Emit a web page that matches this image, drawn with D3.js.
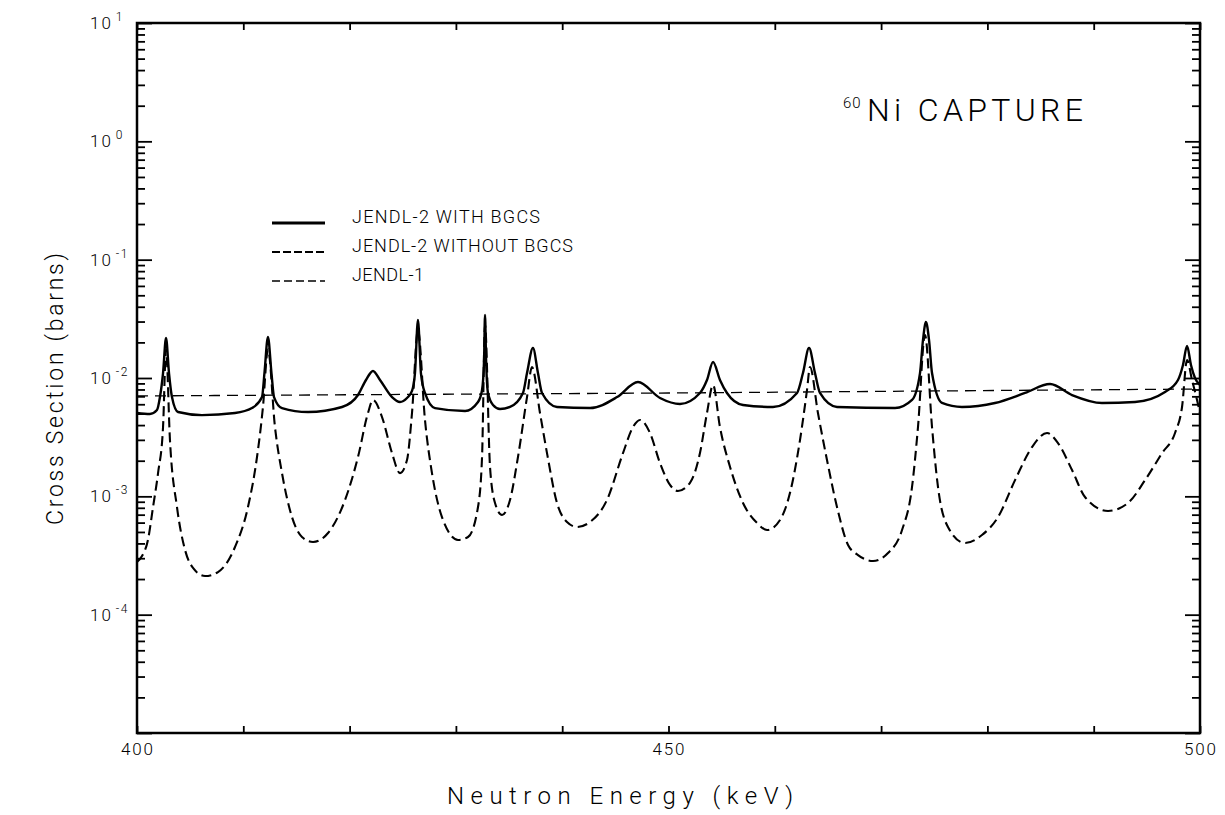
<!DOCTYPE html>
<html>
<head>
<meta charset="utf-8">
<script src="https://cdn.jsdelivr.net/npm/d3@7"></script>
<style>
  body { margin: 0; background: #fff; }
  text { font-family: Roboto, 'DejaVu Sans', sans-serif; font-weight: 300; fill: #000; }
</style>
</head>
<body>
<div id="chart"></div>
<script>

// JENDL-2 with background cross section (solid)
const e_with = [400.00, 401.22, 401.88, 402.16, 402.45, 402.73, 403.01, 403.29, 403.86, 406.11,
  409.22, 410.82, 411.76, 411.99, 412.32, 412.65, 412.89, 413.64, 416.09, 419.29,
  420.79, 421.54, 422.20, 422.86, 423.99, 424.74, 425.40, 425.87, 426.15, 426.43,
  426.71, 427.09, 428.03, 430.86, 432.08, 432.46, 432.65, 432.74, 432.84, 433.02,
  433.49, 434.15, 435.09, 436.31, 436.69, 437.25, 437.72, 438.10, 439.51, 442.62,
  445.16, 447.13, 449.20, 451.08, 452.96, 453.62, 454.19, 454.84, 455.50, 457.01,
  459.83, 462.09, 462.65, 463.22, 463.78, 464.25, 465.85, 471.31, 472.91, 473.66,
  473.94, 474.22, 474.51, 474.79, 475.73, 477.61, 480.71, 483.54, 485.89, 487.96,
  490.78, 493.89, 496.71, 497.93, 498.40, 498.78, 499.15, 499.53, 500.00];
const xs_with = [0.00506, 0.00496, 0.00536, 0.00690, 0.01101, 0.0218, 0.01101, 0.00690, 0.00516, 0.00486,
  0.00506, 0.00557, 0.00690, 0.01101, 0.0222, 0.01101, 0.00690, 0.00557, 0.00516, 0.00569,
  0.00718, 0.00962, 0.01146, 0.00962, 0.00690, 0.00627, 0.00678, 0.00777, 0.01101, 0.0309,
  0.01101, 0.00747, 0.00557, 0.00526, 0.00627, 0.00792, 0.01419, 0.0341, 0.01419, 0.00747,
  0.00592, 0.00547, 0.00569, 0.00747, 0.01101, 0.01792, 0.01101, 0.00747, 0.00569, 0.00557,
  0.00690, 0.00925, 0.00678, 0.00603, 0.00747, 0.00962, 0.01365, 0.00962, 0.00747, 0.00592,
  0.00569, 0.00747, 0.01101, 0.01792, 0.01101, 0.00747, 0.00569, 0.00557, 0.00652, 0.01101,
  0.0209, 0.0297, 0.0209, 0.01101, 0.00615, 0.00569, 0.00615, 0.00747, 0.00889, 0.00718,
  0.00615, 0.00627, 0.00762, 0.00962, 0.01288, 0.01864, 0.01288, 0.0100, 0.00873];

// JENDL-2 without background cross section (heavy dashes)
const e_without = [400.00, 400.47, 401.03, 401.51, 401.98, 402.45, 402.73, 403.10, 403.76, 404.52,
  405.27, 406.40, 407.62, 409.22, 410.44, 411.29, 411.85, 412.32, 412.98, 413.64,
  414.58, 415.52, 416.56, 417.97, 419.57, 420.79, 421.73, 422.20, 423.05, 423.99,
  424.74, 425.40, 425.87, 426.43, 427.09, 427.75, 428.69, 430.20, 431.14, 432.08,
  432.46, 432.74, 433.21, 433.68, 434.34, 435.09, 435.84, 436.69, 437.16, 437.91,
  438.57, 439.51, 440.45, 441.39, 442.62, 444.21, 445.72, 446.66, 447.32, 448.26,
  449.20, 450.14, 450.89, 452.02, 452.96, 453.62, 454.19, 454.84, 455.79, 457.01,
  458.33, 459.27, 460.49, 461.43, 462.37, 463.03, 463.31, 464.06, 464.91, 465.85,
  466.89, 467.83, 469.24, 470.65, 471.97, 472.91, 473.47, 474.13, 474.79, 475.35,
  476.29, 477.89, 479.49, 481.00, 482.60, 484.20, 485.61, 486.64, 487.96, 489.18,
  491.35, 493.23, 494.83, 496.43, 497.65, 498.31, 498.78, 499.25, 499.72, 500.00];
const xs_without = [0.000279, 0.000313, 0.000428, 0.000813, 0.00157, 0.00385, 0.0175, 0.00299, 0.000813, 0.000352,
  0.000248, 0.000212, 0.000229, 0.000373, 0.000813, 0.00215, 0.00569, 0.0175, 0.00385, 0.00157,
  0.000668, 0.000453, 0.000411, 0.000490, 0.000931, 0.00215, 0.00506, 0.00652, 0.00468, 0.00232,
  0.00157, 0.00203, 0.00506, 0.0255, 0.00442, 0.00157, 0.000668, 0.000428, 0.000453, 0.000813,
  0.00215, 0.0280, 0.00177, 0.000879, 0.000695, 0.000931, 0.00215, 0.00690, 0.01238, 0.00506,
  0.00232, 0.000879, 0.000607, 0.000551, 0.000607, 0.000931, 0.00232, 0.00385, 0.00442, 0.00343,
  0.00191, 0.00125, 0.00111, 0.00130, 0.00232, 0.00506, 0.00873, 0.00385, 0.00177, 0.000879,
  0.000595, 0.000519, 0.000631, 0.00107, 0.00299, 0.00792, 0.01238, 0.00506, 0.00203, 0.000813,
  0.000388, 0.000319, 0.000284, 0.000332, 0.000519, 0.00120, 0.00385, 0.0231, 0.00385, 0.00120,
  0.000551, 0.000403, 0.000471, 0.000668, 0.00137, 0.00261, 0.00343, 0.00282, 0.00167, 0.000987,
  0.000752, 0.000879, 0.00137, 0.00232, 0.00343, 0.00569, 0.01419, 0.00962, 0.00652, 0.00506];

// JENDL-1 (thin dashes)
const e_jendl1 = [400, 425, 450, 475, 500];
const xs_jendl1 = [0.00705, 0.00726, 0.00747, 0.00777, 0.00807];

const x_ticks = [400, 410, 420, 430, 440, 450, 460, 470, 480, 490, 500];
const x_labels = [400, 450, 500];
const y_decades = [-5, -4, -3, -2, -1, 0, 1];
const y_labels = [-4, -3, -2, -1, 0, 1];

const legend_names = ['JENDL-2 WITH BGCS', 'JENDL-2 WITHOUT BGCS', 'JENDL-1'];
const legend_widths = [188, 221, 72];


const W = 1225, H = 815;
const margin = { left: 137, right: 25, top: 23, bottom: 82 };
const plot_w = W - margin.left - margin.right;
const plot_h = H - margin.top - margin.bottom;

const svg = d3.select( '#chart' )
  .append( 'svg' )
    .attr( 'width', W )
    .attr( 'height', H );

const g = svg.append( 'g' )
  .attr( 'transform', 'translate(' + margin.left + ',' + margin.top + ')' );

const x = d3.scaleLinear().domain( [400, 500] ).range( [0, plot_w] );
const y = d3.scaleLog().domain( [1e-5, 10] ).range( [plot_h, 0] );

// Minor ticks: 2..9 in every decade.
const y_minor = [];
y_decades.slice( 0, -1 ).forEach( function( p ){
  for( let m = 2; m <= 9; m++ ){ y_minor.push( m * Math.pow( 10, p ) ); }
});
const y_major = y_decades.map( p => Math.pow( 10, p ) );

function tick_axis( axis, tr ){
  const a = g.append( 'g' ).attr( 'transform', tr ).call( axis );
  a.select( '.domain' ).remove();
  a.selectAll( 'text' ).remove();
  a.selectAll( 'line' ).attr( 'stroke', '#000' ).attr( 'stroke-width', 1.8 );
}

// Left and right axes, ticks point inward.
tick_axis( d3.axisRight( y ).tickValues( y_major ).tickSize( 15 ), 'translate(0,0)' );
tick_axis( d3.axisRight( y ).tickValues( y_minor ).tickSize( 8 ), 'translate(0,0)' );
tick_axis( d3.axisLeft( y ).tickValues( y_major ).tickSize( 15 ), 'translate(' + plot_w + ',0)' );
tick_axis( d3.axisLeft( y ).tickValues( y_minor ).tickSize( 8 ), 'translate(' + plot_w + ',0)' );
// Top and bottom axes.
tick_axis( d3.axisTop( x ).tickValues( x_ticks ).tickSize( 7 ), 'translate(0,' + plot_h + ')' );
tick_axis( d3.axisBottom( x ).tickValues( x_ticks ).tickSize( 7 ), 'translate(0,0)' );

// Frame
g.append( 'rect' )
  .attr( 'width', plot_w )
  .attr( 'height', plot_h )
  .attr( 'fill', 'none' )
  .attr( 'stroke', '#000' )
  .attr( 'stroke-width', 2.5 );

// Y tick labels, 10 with superscript exponent.
y_labels.forEach( function( p ){
  const t = g.append( 'text' )
    .attr( 'x', -47 )
    .attr( 'y', y( Math.pow( 10, p ) ) + 6 )
    .attr( 'font-size', 17 )
    .attr( 'font-weight', 400 );
  t.append( 'tspan' ).attr( 'letter-spacing', 2 ).text( '10' );
  t.append( 'tspan' )
    .attr( 'dx', 3 )
    .attr( 'dy', -8 )
    .attr( 'font-size', 12 )
    .attr( 'letter-spacing', 1.5 )
    .text( p < 0 ? '-' + ( -p ) : p );
});

// X tick labels
g.selectAll( '.xlab' )
  .data( x_labels )
  .enter()
  .append( 'text' )
    .attr( 'x', d => x( d ) - 16 )
    .attr( 'y', plot_h + 22 )
    .attr( 'font-size', 17 )
    .attr( 'font-weight', 400 )
    .attr( 'textLength', 32 )
    .attr( 'lengthAdjust', 'spacing' )
    .text( d => d );

// Axis titles
svg.append( 'text' )
  .attr( 'x', 447 )
  .attr( 'y', 804 )
  .attr( 'font-size', 24 )
  .attr( 'textLength', 346 )
  .attr( 'lengthAdjust', 'spacing' )
  .text( 'Neutron Energy (keV)' );

svg.append( 'text' )
  .attr( 'transform', 'translate(63,525) rotate(-90)' )
  .attr( 'font-size', 23 )
  .attr( 'textLength', 272 )
  .attr( 'lengthAdjust', 'spacing' )
  .text( 'Cross Section (barns)' );

// Title
svg.append( 'text' )
  .attr( 'x', 843 )
  .attr( 'y', 108 )
  .attr( 'font-size', 15 )
  .attr( 'letter-spacing', 1 )
  .text( '60' );
svg.append( 'text' )
  .attr( 'x', 867 )
  .attr( 'y', 121 )
  .attr( 'font-size', 32 )
  .attr( 'textLength', 216 )
  .attr( 'lengthAdjust', 'spacing' )
  .text( 'Ni CAPTURE' );

// Curves
const line = d3.line()
  .x( d => x( d[0] ) )
  .y( d => y( d[1] ) )
  .curve( d3.curveMonotoneX );

const series = [
  { e: e_with, v: xs_with, width: 2.4, dash: null },
  { e: e_without, v: xs_without, width: 2.1, dash: '10,5' },
  { e: e_jendl1, v: xs_jendl1, width: 1.3, dash: '11,7' }
];

svg.append( 'clipPath' ).attr( 'id', 'clip' )
  .append( 'rect' ).attr( 'width', plot_w ).attr( 'height', plot_h );

series.forEach( function( s ){
  g.append( 'path' )
    .datum( d3.zip( s.e, s.v ) )
    .attr( 'clip-path', 'url(#clip)' )
    .attr( 'fill', 'none' )
    .attr( 'stroke', '#000' )
    .attr( 'stroke-width', s.width )
    .attr( 'stroke-dasharray', s.dash )
    .attr( 'd', line );
});

// Legend
const leg = svg.append( 'g' );
series.forEach( function( s, i ){
  const ly = 223 + i * 29;
  leg.append( 'line' )
    .attr( 'x1', 272 ).attr( 'x2', 325 )
    .attr( 'y1', ly ).attr( 'y2', ly )
    .attr( 'stroke', '#000' )
    .attr( 'stroke-width', i == 0 ? 3 : s.width )
    .attr( 'stroke-dasharray', i == 1 ? '8,3' : ( i == 2 ? '8,4' : null ) );
  leg.append( 'text' )
    .attr( 'x', 352 )
    .attr( 'y', ly )
    .attr( 'font-size', 18 )
    .attr( 'textLength', legend_widths[i] )
    .attr( 'lengthAdjust', 'spacing' )
    .text( legend_names[i] );
});

</script>
</body>
</html>
